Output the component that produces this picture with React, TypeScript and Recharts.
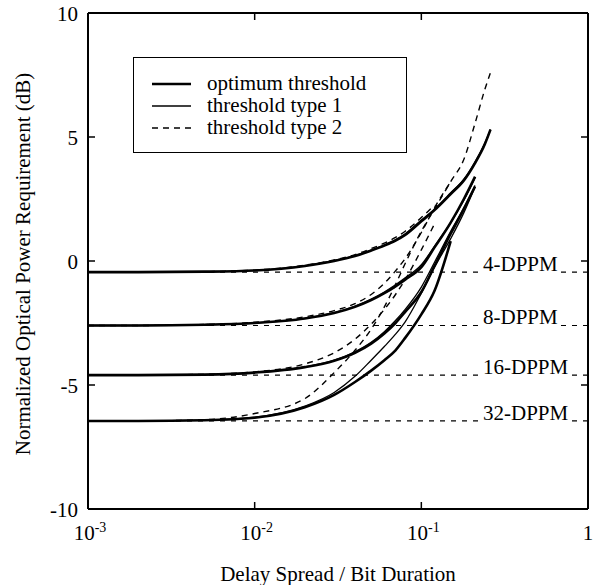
import React from "react";
import { LineChart, Line, XAxis, YAxis, ReferenceLine, Legend } from "recharts";

// delay spread / bit duration (shared x grid, each series uses a prefix of it)
const delaySpread = [
  0.001, 0.002, 0.005, 0.01, 0.02, 0.03, 0.04, 0.05, 0.06, 0.07, 0.08, 0.1,
  0.12, 0.15, 0.18, 0.21, 0.24, 0.26,
];

// normalized optical power requirement (dB)
const opt4 = [-0.45, -0.45, -0.43, -0.38, -0.2, 0.0, 0.2, 0.42, 0.62, 0.82, 1.05, 1.6, 2.05, 2.7, 3.25, 3.95, 4.7, 5.3];
const type1_4 = [-0.45, -0.45, -0.43, -0.38, -0.19, 0.02, 0.22, 0.44, 0.65, 0.86, 1.1, 1.65, 2.1, 2.75, 3.3, 4.0, 4.75, 5.3];
const type2_4 = [-0.45, -0.45, -0.43, -0.37, -0.17, 0.04, 0.26, 0.5, 0.72, 0.95, 1.2, 1.75, 2.25];

const opt8 = [-2.6, -2.6, -2.57, -2.5, -2.32, -2.1, -1.85, -1.58, -1.3, -1.02, -0.75, -0.25, 0.55, 1.55, 2.5, 3.4];
const type1_8 = [-2.6, -2.6, -2.57, -2.5, -2.31, -2.08, -1.82, -1.54, -1.25, -0.96, -0.68, -0.15, 0.6, 1.55, 2.45, 3.35];
const type2_8 = [-2.6, -2.6, -2.56, -2.47, -2.25, -2.0, -1.72, -1.35, -0.9, -0.4, 0.1, 1.15, 2.15, 3.2];

const opt16 = [-4.6, -4.6, -4.58, -4.5, -4.28, -4.02, -3.7, -3.33, -2.92, -2.5, -2.05, -1.25, -0.2, 1.1, 2.1, 3.0];
const type1_16 = [-4.6, -4.6, -4.58, -4.5, -4.27, -4.0, -3.66, -3.28, -2.85, -2.4, -1.95, -1.05, -0.05, 1.2, 2.15, 3.05];
const type2_16 = [-4.6, -4.6, -4.57, -4.47, -4.15, -3.7, -3.15, -2.55, -1.95, -1.35, -0.75, 0.45, 1.5];

const opt32 = [-6.45, -6.45, -6.42, -6.32, -5.9, -5.4, -4.88, -4.42, -4.0, -3.6, -3.1, -2.15, -1.2, 0.8];
const type1_32 = [-6.45, -6.45, -6.42, -6.3, -5.85, -5.3, -4.65, -4.0, -3.45, -2.95, -2.45, -1.3, -0.25, 0.9, 1.95, 3.0];
const type2_32 = [-6.45, -6.45, -6.4, -6.15, -5.55, -4.5, -3.6, -2.75, -1.85, -0.95, -0.1, 1.2, 2.1, 3.2, 4.1, 5.55, 6.9, 7.6];

const dppmLevels = [-0.45, -2.6, -4.6, -6.45];
const dppmNames = ["4-DPPM", "8-DPPM", "16-DPPM", "32-DPPM"];

const xTicks = [0.001, 0.01, 0.1, 1];
const xTickExps = ["-3", "-2", "-1", ""];
const yTicks = [-10, -5, 0, 5, 10];

const legendNames = ["optimum threshold", "threshold type 1", "threshold type 2"];
const legendKinds = ["opt", "t1", "t2"];

const FONT = "'Liberation Serif', 'Times New Roman', serif";

const lineStyles: Record<string, { strokeWidth: number; strokeDasharray?: string }> = {
  opt: { strokeWidth: 2.6 },
  t1: { strokeWidth: 1.3 },
  t2: { strokeWidth: 1.4, strokeDasharray: "6 5" },
};

const series = [
  { key: "opt4", ys: opt4, kind: "opt" },
  { key: "type1_4", ys: type1_4, kind: "t1" },
  { key: "type2_4", ys: type2_4, kind: "t2" },
  { key: "opt8", ys: opt8, kind: "opt" },
  { key: "type1_8", ys: type1_8, kind: "t1" },
  { key: "type2_8", ys: type2_8, kind: "t2" },
  { key: "opt16", ys: opt16, kind: "opt" },
  { key: "type1_16", ys: type1_16, kind: "t1" },
  { key: "type2_16", ys: type2_16, kind: "t2" },
  { key: "opt32", ys: opt32, kind: "opt" },
  { key: "type1_32", ys: type1_32, kind: "t1" },
  { key: "type2_32", ys: type2_32, kind: "t2" },
];

const toPoints = (ys: number[]) => ys.map((y, i) => ({ x: delaySpread[i], y }));

function XTick(props: any) {
  const { x, y, payload } = props;
  const exp = xTickExps[xTicks.indexOf(payload.value)];
  if (!exp) {
    return (
      <text x={x} y={y} textAnchor="middle" fontSize={21} fontFamily={FONT} fill="#000">
        1
      </text>
    );
  }
  return (
    <text x={x + 2} y={y} textAnchor="middle" fontSize={21} fontFamily={FONT} fill="#000">
      10
      <tspan dy={-8} fontSize={14}>
        {exp}
      </tspan>
    </text>
  );
}

function YTick(props: any) {
  const { x, y, payload } = props;
  return (
    <text x={x} y={y + 8} textAnchor="end" fontSize={21} fontFamily={FONT} fill="#000">
      {payload.value}
    </text>
  );
}

const NoTick = () => <g />;

function DppmLabel(props: any) {
  const { viewBox, name } = props;
  const tx = viewBox.x + viewBox.width - 105;
  const ly = viewBox.y;
  const w = name.length * 11.5 + 10;
  return (
    <g>
      <rect x={tx - 4} y={ly - 3} width={w} height={6} fill="#fff" />
      <text x={tx} y={ly - 1} fontSize={21} fontFamily={FONT} fill="#000">
        {name}
      </text>
    </g>
  );
}

function LegendBox() {
  return (
    <div
      style={{
        boxSizing: "border-box",
        width: 274,
        height: 96,
        border: "1.5px solid #000",
        background: "#fff",
      }}
    >
      <svg width={271} height={93} style={{ display: "block" }}>
        {legendNames.map((name, i) => {
          const cy = 26 + 22 * i;
          return (
            <g key={name}>
              <line x1={18} x2={57} y1={cy} y2={cy} stroke="#000" {...lineStyles[legendKinds[i]]} />
              <text x={73} y={cy + 6} fontSize={21} fontFamily={FONT} fill="#000">
                {name}
              </text>
            </g>
          );
        })}
      </svg>
    </div>
  );
}

export default function App() {
  return (
    <div style={{ position: "absolute", left: 0, top: 0, background: "#fff" }}>
      <LineChart width={602} height={585} margin={{ top: 12, right: 0, bottom: 0, left: 0 }}>
        <XAxis
          dataKey="x"
          type="number"
          scale="log"
          domain={[0.001, 1]}
          allowDataOverflow
          ticks={xTicks}
          height={76}
          tickSize={-7}
          tickMargin={38}
          tick={<XTick />}
          axisLine={{ stroke: "#000", strokeWidth: 2 }}
          tickLine={{ stroke: "#000", strokeWidth: 1.5 }}
          label={{
            value: "Delay Spread / Bit Duration",
            position: "insideBottom",
            offset: 4,
            fill: "#000",
            fontSize: 21,
            fontFamily: FONT,
          }}
        />
        <XAxis
          xAxisId="top"
          orientation="top"
          dataKey="x"
          type="number"
          scale="log"
          domain={[0.001, 1]}
          allowDataOverflow
          ticks={xTicks}
          height={1}
          tickSize={-7}
          tick={NoTick}
          axisLine={{ stroke: "#000", strokeWidth: 2 }}
          tickLine={{ stroke: "#000", strokeWidth: 1.5 }}
        />
        <YAxis
          type="number"
          domain={[-10, 10]}
          allowDataOverflow
          ticks={yTicks}
          width={88}
          tickSize={-7}
          tickMargin={17}
          tick={<YTick />}
          axisLine={{ stroke: "#000", strokeWidth: 2 }}
          tickLine={{ stroke: "#000", strokeWidth: 1.5 }}
          label={{
            content: () => (
              <text
                x={30}
                y={264}
                transform="rotate(-90, 30, 264)"
                textAnchor="middle"
                fontSize={21}
                fontFamily={FONT}
                fill="#000"
              >
                Normalized Optical Power Requirement (dB)
              </text>
            ),
          }}
        />
        <YAxis
          yAxisId="right"
          orientation="right"
          type="number"
          domain={[-10, 10]}
          allowDataOverflow
          ticks={yTicks}
          width={14}
          tickSize={-7}
          tick={NoTick}
          axisLine={{ stroke: "#000", strokeWidth: 2 }}
          tickLine={{ stroke: "#000", strokeWidth: 1.5 }}
        />
        {dppmLevels.map((lvl, i) => (
          <ReferenceLine
            key={dppmNames[i]}
            y={lvl}
            stroke="#000"
            strokeWidth={1.2}
            strokeDasharray="5 6"
            label={{ content: (p: any) => <DppmLabel viewBox={p.viewBox} name={dppmNames[i]} /> }}
          />
        ))}
        {series.map((s) => (
          <Line
            key={s.key}
            name={s.key}
            data={toPoints(s.ys)}
            dataKey="y"
            type="monotone"
            stroke="#000"
            {...lineStyles[s.kind]}
            dot={false}
            activeDot={false}
            legendType="none"
            isAnimationActive={false}
          />
        ))}
        <Legend
          layout="vertical"
          align="center"
          verticalAlign="middle"
          wrapperStyle={{ left: 133, top: 57, width: 274, height: 96 }}
          content={() => <LegendBox />}
        />
      </LineChart>
    </div>
  );
}
